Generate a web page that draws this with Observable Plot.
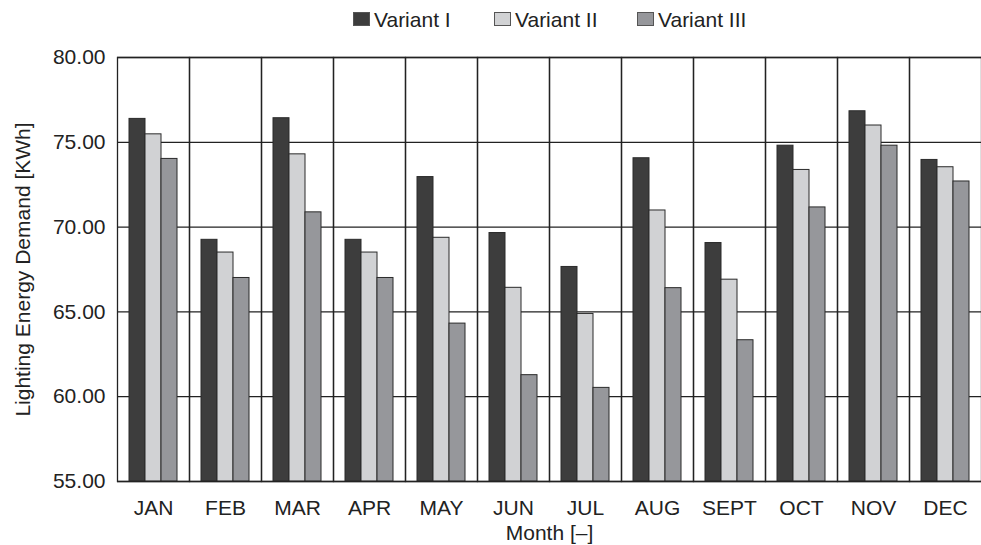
<!DOCTYPE html>
<html>
<head>
<meta charset="utf-8">
<script src="https://cdn.jsdelivr.net/npm/d3@7"></script>
<script src="https://cdn.jsdelivr.net/npm/@observablehq/plot@0.6"></script>
<style>
  html, body { margin: 0; padding: 0; background: #fff; overflow: hidden; width: 981px; height: 545px; }
  #legend { position: relative; height: 40px; font-family: "Liberation Sans", Arial, sans-serif; font-size: 21px; color: #222; }
  .item { position: absolute; top: 0; height: 40px; display: flex; align-items: center; }
  .sw { width: 15px; height: 12px; border: 1px solid #555; margin-right: 4px; margin-top: -2px; }
  #chart svg { max-width: none !important; }
</style>
</head>
<body>
<div id="legend"></div>
<div id="chart"></div>
<script>
const months = ["JAN","FEB","MAR","APR","MAY","JUN","JUL","AUG","SEPT","OCT","NOV","DEC"];
const variants = ["Variant I","Variant II","Variant III"];
const variantI   = [76.38, 69.25, 76.42, 69.25, 72.95, 69.65, 67.65, 74.06, 69.06, 74.80, 76.83, 73.96];
const variantII  = [75.47, 68.50, 74.29, 68.50, 69.37, 66.42, 64.88, 70.98, 66.90, 73.37, 75.99, 73.53];
const variantIII = [74.02, 67.00, 70.87, 67.00, 64.31, 61.27, 60.52, 66.40, 63.33, 71.16, 74.80, 72.69];
const yTicks = [55, 60, 65, 70, 75, 80];
const colors = ["#3d3d3d", "#d1d2d4", "#96979b"];
const legendX = [353, 494, 637];

const series = [variantI, variantII, variantIII];
const data = [];
months.forEach((m, i) => {
  variants.forEach((v, j) => data.push({month: m, variant: v, value: series[j][i]}));
});
const yMin = yTicks[0], yMax = yTicks[yTicks.length - 1];

// legend
const legend = document.getElementById("legend");
variants.forEach((v, j) => {
  const it = document.createElement("div");
  it.className = "item";
  it.style.left = legendX[j] + "px";
  const sw = document.createElement("div");
  sw.className = "sw";
  sw.style.background = colors[j];
  it.appendChild(sw);
  const t = document.createElement("span");
  t.textContent = v;
  it.appendChild(t);
  legend.appendChild(it);
});

const chart = Plot.plot({
  width: 986,
  height: 505,
  marginTop: 17,
  marginBottom: 64,
  marginLeft: 112,
  marginRight: 0,
  style: {fontFamily: "'Liberation Sans', Arial, sans-serif", fontSize: "21px", color: "#222", background: "#fff", maxWidth: "none"},
  fx: {
    domain: months,
    padding: 0,
    axis: "bottom",
    tickSize: 0,
    tickPadding: 19,
    label: "Month [–]",
    labelAnchor: "center",
    labelOffset: 58,
    labelArrow: "none"
  },
  x: {domain: variants, axis: null, paddingInner: 0, paddingOuter: 0.74},
  y: {
    domain: [yMin, yMax],
    ticks: yTicks,
    tickFormat: d3.format(".2f"),
    tickSize: 0,
    tickPadding: 12,
    label: "Lighting Energy Demand [KWh]",
    labelAnchor: "center",
    labelOffset: 102,
    labelArrow: "none"
  },
  color: {domain: variants, range: colors},
  marks: [
    Plot.gridY(yTicks, {stroke: "#222", strokeOpacity: 1, strokeWidth: 1.3}),
    Plot.barY(data, {fx: "month", x: "variant", y1: yMin, y2: "value", fill: "variant", stroke: "#2a2a2a", strokeWidth: 1}),
    Plot.frame({stroke: "#222", strokeWidth: 1.3})
  ]
});
document.getElementById("chart").appendChild(chart);
</script>
</body>
</html>
